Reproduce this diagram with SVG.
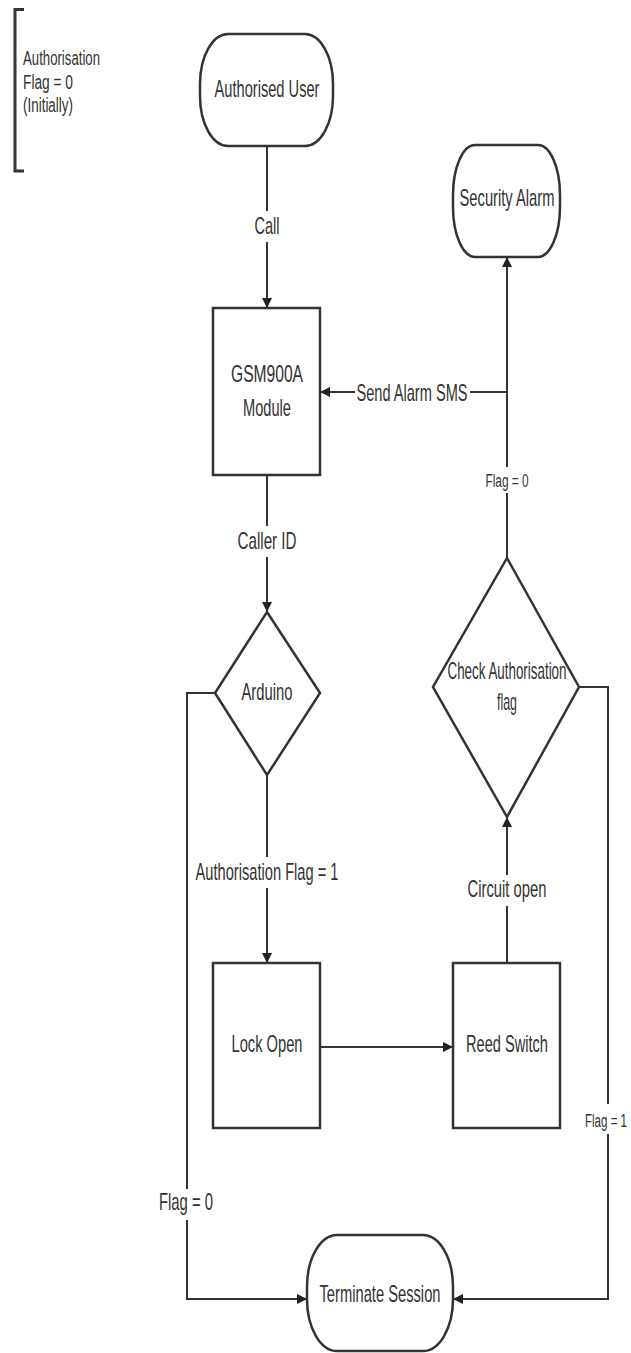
<svg xmlns="http://www.w3.org/2000/svg" width="631" height="1353" viewBox="0 0 631 1353">
<style>
.shape{fill:#fff;stroke:#333;stroke-width:2.5}
.line{fill:none;stroke:#333;stroke-width:2}
.t{font-family:"Liberation Sans",Arial,sans-serif;font-size:24px;fill:#333;text-anchor:middle}
.s{font-size:18px}
.lg{font-family:"Liberation Sans",Arial,sans-serif;font-size:20px;fill:#333}
</style>
<defs>
<marker id="arr" viewBox="0 0 10 10" refX="10" refY="5" markerWidth="10" markerHeight="10" markerUnits="userSpaceOnUse" orient="auto">
<path d="M0,0 L10,5 L0,10 z" fill="#222"/>
</marker>
</defs>
<rect width="631" height="1353" fill="#fff"/>
<g id="legend">
<path d="M24,9.5 H15 V171 H24" fill="none" stroke="#333" stroke-width="3"/>
<text class="lg" x="23" y="65" textLength="77" lengthAdjust="spacingAndGlyphs">Authorisation</text>
<text class="lg" x="23" y="89" textLength="50" lengthAdjust="spacingAndGlyphs">Flag = 0</text>
<text class="lg" x="23" y="112" textLength="50" lengthAdjust="spacingAndGlyphs">(Initially)</text>
</g>
<g id="connectors">
<path class="line" d="M267,146 V211 M267,242 V308" marker-end="url(#arr)"/>
<text class="t" x="267" y="234" textLength="25" lengthAdjust="spacingAndGlyphs">Call</text>
<path class="line" d="M267,475 V526 M267,557 V612" marker-end="url(#arr)"/>
<text class="t" x="267" y="549" textLength="59" lengthAdjust="spacingAndGlyphs">Caller ID</text>
<path class="line" d="M215,693 H187 V1189 M187,1220 V1299 H307" marker-end="url(#arr)"/>
<text class="t" x="186" y="1210" textLength="54" lengthAdjust="spacingAndGlyphs">Flag = 0</text>
<path class="line" d="M267,775 V857 M267,888 V963" marker-end="url(#arr)"/>
<text class="t" x="267" y="880" textLength="143" lengthAdjust="spacingAndGlyphs">Authorisation Flag = 1</text>
<path class="line" d="M320,1047 H453" marker-end="url(#arr)"/>
<path class="line" d="M507,963 V906 M507,875 V817" marker-end="url(#arr)"/>
<text class="t" x="507" y="897" textLength="79" lengthAdjust="spacingAndGlyphs">Circuit open</text>
<path class="line" d="M579,687 H608 V1104 M608,1134 V1299 H453" marker-end="url(#arr)"/>
<text class="t s" x="606" y="1127" textLength="42" lengthAdjust="spacingAndGlyphs">Flag = 1</text>
<path class="line" d="M507,558 V493 M507,467 V257" marker-end="url(#arr)"/>
<text class="t s" x="507" y="487" textLength="43" lengthAdjust="spacingAndGlyphs">Flag = 0</text>
<path class="line" d="M507,392 H470 M355,392 H320" marker-end="url(#arr)"/>
<text class="t" x="412" y="401" textLength="111" lengthAdjust="spacingAndGlyphs">Send Alarm SMS</text>
</g>
<g id="authorised-user">
<rect class="shape" x="200" y="34" width="133" height="112" rx="28" ry="50"/>
<text class="t" x="267" y="97" textLength="105" lengthAdjust="spacingAndGlyphs">Authorised User</text>
</g>
<g id="security-alarm">
<rect class="shape" x="453" y="145" width="107" height="112" rx="22" ry="50"/>
<text class="t" x="507" y="206" textLength="95" lengthAdjust="spacingAndGlyphs">Security Alarm</text>
</g>
<g id="gsm-module">
<rect class="shape" x="213" y="308" width="107" height="167"/>
<text class="t" x="267" y="382" textLength="72" lengthAdjust="spacingAndGlyphs">GSM900A</text>
<text class="t" x="267" y="416" textLength="48" lengthAdjust="spacingAndGlyphs">Module</text>
</g>
<g id="arduino">
<path class="shape" d="M267,612 L320,693 L267,775 L215,693 Z"/>
<text class="t" x="267" y="700" textLength="51" lengthAdjust="spacingAndGlyphs">Arduino</text>
</g>
<g id="check-flag">
<path class="shape" d="M507,558 L579,687 L507,817 L433,687 Z"/>
<text class="t" x="507" y="679" textLength="119" lengthAdjust="spacingAndGlyphs">Check Authorisation</text>
<text class="t" x="507" y="710" textLength="20" lengthAdjust="spacingAndGlyphs">flag</text>
</g>
<g id="lock-open">
<rect class="shape" x="213" y="963" width="107" height="165"/>
<text class="t" x="267" y="1052" textLength="71" lengthAdjust="spacingAndGlyphs">Lock Open</text>
</g>
<g id="reed-switch">
<rect class="shape" x="453" y="963" width="107" height="165"/>
<text class="t" x="507" y="1052" textLength="82" lengthAdjust="spacingAndGlyphs">Reed Switch</text>
</g>
<g id="terminate-session">
<rect class="shape" x="307" y="1235" width="146" height="116" rx="30" ry="52"/>
<text class="t" x="380" y="1302" textLength="121" lengthAdjust="spacingAndGlyphs">Terminate Session</text>
</g>
</svg>
